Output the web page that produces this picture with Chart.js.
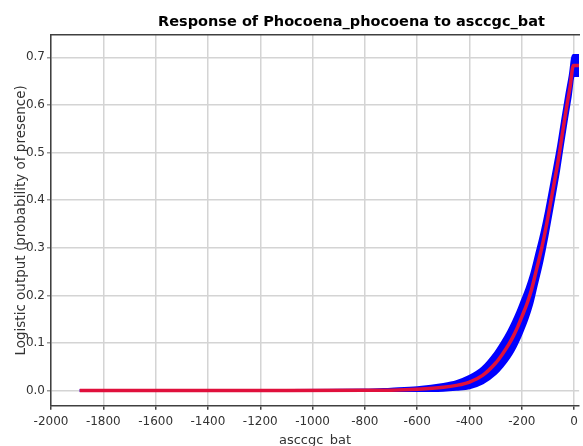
<!DOCTYPE html>
<html>
<head>
<meta charset="utf-8">
<title>Response of Phocoena_phocoena to asccgc_bat</title>
<script src="https://cdn.jsdelivr.net/npm/chart.js@4.4.1/dist/chart.umd.min.js"></script>
<style>
  html, body { margin: 0; padding: 0; background: #fff; overflow: hidden; }
  #wrap { width: 583px; height: 446px; }
</style>
</head>
<body>
<div id="wrap"><canvas id="responseChart" width="583" height="446"></canvas></div>
<script>
const depth = [-1890, -1500, -1100, -800, -700, -600, -500, -450, -400, -350, -300, -275, -250, -232, -215, -200, -180, -163, -145, -123, -105, -90, -75, -59, -45, -29, -15, -3, 19];
const meanResp = [0, 0, 0, 0.0005, 0.001, 0.003, 0.007, 0.011, 0.018, 0.032, 0.058, 0.076, 0.097, 0.115, 0.135, 0.155, 0.183, 0.212, 0.252, 0.302, 0.35, 0.395, 0.44, 0.49, 0.54, 0.595, 0.64, 0.683, 0.683];
const upperResp = [0, 0, 0, 0.0005, 0.003, 0.006, 0.013, 0.019, 0.03, 0.048, 0.08, 0.101, 0.125, 0.145, 0.166, 0.187, 0.215, 0.244, 0.283, 0.332, 0.379, 0.423, 0.467, 0.516, 0.565, 0.619, 0.662, 0.704, 0.704];
const lowerResp = [0, 0, 0, 0.0005, 0, 0, 0.001, 0.003, 0.006, 0.016, 0.036, 0.051, 0.069, 0.085, 0.104, 0.123, 0.151, 0.18, 0.221, 0.272, 0.321, 0.367, 0.413, 0.464, 0.515, 0.571, 0.618, 0.662, 0.662];

// Marcas de los ejes
const xTicks = [-2000, -1800, -1600, -1400, -1200, -1000, -800, -600, -400, -200, 0];
const yTicks = [0, 0.1, 0.2, 0.3, 0.4, 0.5, 0.6, 0.7];

const BLUE = '#0000ff';
const RED = '#e0103c';
const GRID = '#d4d4d4';
const AXIS = '#404040';

Chart.defaults.font.family = "'DejaVu Sans', sans-serif";
Chart.defaults.color = '#333';

function toPoints(ys) {
    return depth.map((x, i) => ({ x: x, y: ys[i] }));
}

// Título centrado como en el original (desplazado a la derecha)
const titleShift = {
    id: 'titleShift',
    afterLayout(chart) {
        if (chart.titleBlock) chart.titleBlock.left = 120;
    }
};

function initChart() {
    const ctx = document.getElementById('responseChart').getContext('2d');
    new Chart(ctx, {
        type: 'line',
        data: {
            datasets: [{
                label: 'mean',
                data: toPoints(meanResp),
                borderColor: RED,
                borderWidth: 3.5,
                pointRadius: 0,
                cubicInterpolationMode: 'monotone',
                fill: false
            }, {
                label: 'mean + sd',
                data: toPoints(upperResp),
                borderColor: BLUE,
                borderWidth: 3,
                pointRadius: 0,
                cubicInterpolationMode: 'monotone',
                fill: false
            }, {
                label: 'mean - sd',
                data: toPoints(lowerResp),
                borderColor: BLUE,
                backgroundColor: BLUE,
                borderWidth: 3,
                pointRadius: 0,
                cubicInterpolationMode: 'monotone',
                fill: '-1'
            }]
        },
        options: {
            responsive: false,
            animation: false,
            layout: { padding: 0 },
            plugins: {
                legend: { display: false },
                tooltip: { enabled: false },
                title: {
                    display: true,
                    text: 'Response of Phocoena_phocoena to asccgc_bat',
                    color: '#000',
                    font: { size: 14.5, weight: 'bold', lineHeight: 1.2 },
                    padding: { top: 13.5, bottom: 4.1 }
                }
            },
            scales: {
                x: {
                    type: 'linear',
                    position: 'bottom',
                    min: -2000,
                    max: 19,
                    afterBuildTicks: s => { s.ticks = xTicks.map(v => ({ value: v })); },
                    afterFit: s => { s.height = 40.3; },
                    ticks: {
                        font: { size: 12 },
                        color: '#333',
                        padding: 5,
                        maxRotation: 0,
                        callback: v => String(v)
                    },
                    grid: { color: GRID, lineWidth: 1.5, tickLength: 4, tickColor: AXIS, tickWidth: 1.5 },
                    border: { color: AXIS, width: 1.5 },
                    title: {
                        display: true,
                        text: 'asccgc_bat',
                        font: { size: 13 },
                        color: '#333',
                        padding: { top: 0, bottom: -2 }
                    }
                },
                xTop: {
                    type: 'linear',
                    position: 'top',
                    min: -2000,
                    max: 19,
                    afterFit: s => { s.height = 0; },
                    ticks: { display: false },
                    grid: { display: false },
                    border: { color: AXIS, width: 1.5 }
                },
                y: {
                    min: -0.0317,
                    max: 0.747,
                    afterBuildTicks: s => { s.ticks = yTicks.map(v => ({ value: v })); },
                    afterFit: s => { s.width = 51; },
                    ticks: {
                        font: { size: 12 },
                        color: '#333',
                        padding: 2,
                        callback: v => v.toFixed(1)
                    },
                    grid: { color: GRID, lineWidth: 1.5, tickLength: 4, tickColor: '#999' },
                    border: { color: AXIS, width: 1.5 },
                    title: {
                        display: true,
                        text: 'Logistic output (probability of presence)',
                        font: { size: 13.5 },
                        color: '#333',
                        padding: { top: 13, bottom: 0 }
                    }
                }
            }
        },
        plugins: [titleShift]
    });
}

window.onload = () => {
    initChart();
};
</script>
</body>
</html>
